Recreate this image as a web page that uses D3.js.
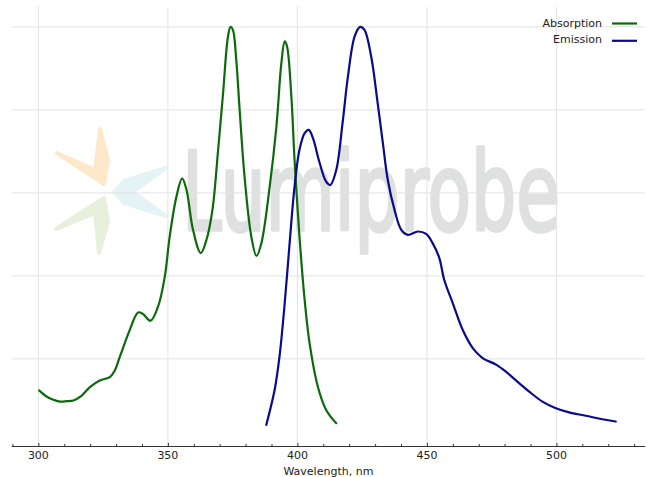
<!DOCTYPE html>
<html>
<head>
<meta charset="utf-8">
<script src="https://cdn.jsdelivr.net/npm/d3@7"></script>
<style>
  html, body { margin: 0; padding: 0; background: #fff; }
  svg { display: block; }
  text { font-family: "DejaVu Sans", sans-serif; }
</style>
</head>
<body>
<script>
// ---- data ----
const absorptionNm = [300.3,303,305.5,308.3,311,313.5,316.5,319.9,323.7,327.6,329.5,331.5,335.3,338.5,340.4,343.3,346.2,348.8,350.7,353.3,355.5,357.2,359.7,362.7,364.9,367.2,369.4,371.3,373.2,374.2,375.1,376.4,377.7,379.6,382.2,384.2,386.1,389.3,391.9,393.8,395.1,396.0,397.6,398.9,400.8,402.8,404.7,407.9,411.1,415.0];
const absorptionVal = [0.124,0.110,0.102,0.097,0.098,0.0995,0.110,0.132,0.148,0.156,0.172,0.206,0.270,0.312,0.308,0.292,0.326,0.398,0.495,0.591,0.635,0.607,0.511,0.455,0.487,0.559,0.704,0.840,0.977,1.0,0.993,0.920,0.800,0.639,0.495,0.448,0.479,0.615,0.760,0.912,0.965,0.953,0.840,0.680,0.495,0.342,0.238,0.133,0.077,0.045];
const emissionNm = [388.0,391.2,393.1,395.1,397.0,398.9,400.8,402.8,404.4,406.0,408.6,411.1,412.7,415.0,417.5,419.5,422.1,424.2,425.9,428.5,431.0,433.0,434.9,437.5,440.1,442.6,446.5,449.7,452.2,454.8,456.7,460.0,463.8,467.7,471.5,476.7,480.5,485.7,489.5,494.6,499.8,504.9,511.4,517.2,522.9];
const emissionVal = [0.041,0.125,0.206,0.334,0.479,0.615,0.704,0.744,0.752,0.732,0.672,0.627,0.619,0.655,0.772,0.880,0.977,1.0,0.993,0.928,0.816,0.720,0.631,0.559,0.511,0.499,0.507,0.501,0.479,0.443,0.390,0.334,0.270,0.226,0.202,0.186,0.169,0.141,0.121,0.097,0.081,0.071,0.063,0.055,0.049];
const xMajorTicks = [300,350,400,450,500];
const yGridTicks = [0.2,0.4,0.6,0.8,1.0];
const seriesNames = ["Absorption","Emission"];
const seriesColors = ["#0b6b0b","#0a0a8c"];
const xLabel = "Wavelength, nm";
const watermarkText = "Lumiprobe";

// ---- layout ----
const W = 647, H = 477;
const x = d3.scaleLinear().domain([289.7, 534.2]).range([11.7, 645]);
const y = d3.scaleLinear().domain([-0.01, 1.048]).range([446, 7]);

const svg = d3.select("body").append("svg").attr("width", W).attr("height", H);

// watermark logo (decorative)
const logo = svg.append("g").attr("class","watermark");
const petals = [
  {c:"#fde8c9", p:[[57,153],[95,170],[100,129],[108,160],[104,184]]},
  {c:"#e4f4f6", p:[[166,168],[133,192],[166,216],[124,203],[114,192],[124,181]]},
  {c:"#e6f0da", p:[[56,229],[104,198],[108,222],[99,253],[95,213]]}
];
logo.selectAll("path").data(petals).join("path")
  .attr("d", d => "M" + d.p.map(q => q.join(",")).join("L") + "Z")
  .attr("fill", d => d.c).attr("stroke", d => d.c)
  .attr("stroke-width", 4).attr("stroke-linejoin","round");
const wm = logo.append("text").text(watermarkText)
  .attr("x", 0).attr("y", 0)
  .attr("font-size", 108)
  .attr("fill", "#dfe0e0").attr("stroke", "#dfe0e0").attr("stroke-width", 3.5)
  .attr("stroke-linejoin", "round");
const wmLen = wm.node().getComputedTextLength();
wm.attr("transform", `translate(182,230) scale(${378 / wmLen},1)`);

// grid
const grid = svg.append("g").attr("stroke", "#e2e2e2").attr("stroke-width", 1);
grid.selectAll("line.v").data(xMajorTicks).join("line").attr("class","v")
  .attr("x1", d => x(d)).attr("x2", d => x(d)).attr("y1", 7).attr("y2", 446);
grid.selectAll("line.h").data(yGridTicks).join("line").attr("class","h")
  .attr("x1", 11.7).attr("x2", 645).attr("y1", d => y(d)).attr("y2", d => y(d));

// x axis
const axisG = svg.append("g").attr("transform", "translate(0,446)");
const minorTicks = d3.range(290, 535, 10).filter(t => t % 50 !== 0);
axisG.append("g").call(d3.axisTop(x).tickValues(minorTicks).tickSize(2).tickFormat(""))
  .call(g => g.select(".domain").remove())
  .call(g => g.selectAll("line").attr("stroke", "#333"));
axisG.append("g").call(d3.axisTop(x).tickValues(xMajorTicks).tickSize(3).tickFormat(""))
  .call(g => g.select(".domain").attr("stroke", "#333").attr("d", `M${x.range()[0]},0.5H${x.range()[1]}`))
  .call(g => g.selectAll("line").attr("stroke", "#333"));
axisG.selectAll("text.tl").data(xMajorTicks).join("text").attr("class","tl")
  .attr("x", d => x(d)).attr("y", 12.8).attr("text-anchor","middle")
  .attr("font-size", 11).attr("fill", "#222").text(d => d);
svg.append("text").attr("x", x(400) + 31).attr("y", 474.5).attr("text-anchor","middle")
  .attr("font-size", 11).attr("fill", "#222").text(xLabel);

// lines
const line = d3.line().x(d => x(d[0])).y(d => y(d[1])).curve(d3.curveCatmullRom.alpha(0.5));
const series = [d3.zip(absorptionNm, absorptionVal), d3.zip(emissionNm, emissionVal)];
svg.selectAll("path.series").data(series).join("path").attr("class","series")
  .attr("d", line).attr("fill","none")
  .attr("stroke", (d,i) => seriesColors[i]).attr("stroke-width", 2.2)
  .attr("stroke-linejoin","round").attr("stroke-linecap","round");

// legend
const leg = svg.append("g");
seriesNames.forEach((n,i) => {
  leg.append("text").attr("x", 602).attr("y", 26.8 + i*16.6).attr("text-anchor","end")
    .attr("font-size", 11).attr("fill", "#222").text(n);
  leg.append("line").attr("x1", 612).attr("x2", 637)
    .attr("y1", 23.5 + i*17.3).attr("y2", 23.5 + i*17.3)
    .attr("stroke", seriesColors[i]).attr("stroke-width", 2.2);
});
</script>
</body>
</html>
